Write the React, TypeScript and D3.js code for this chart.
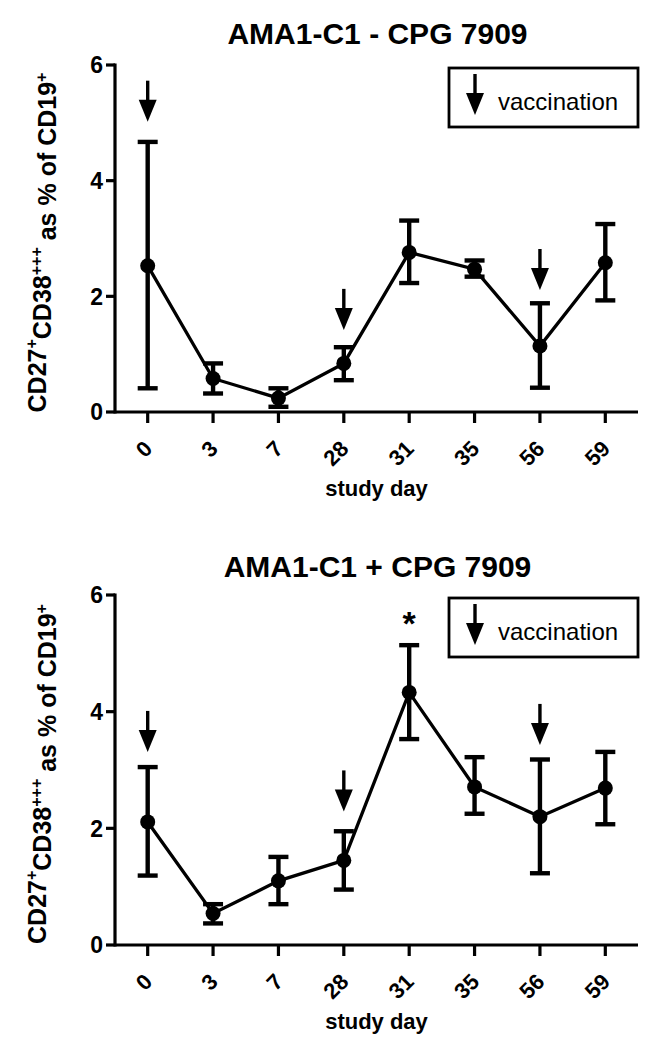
import React from "react";
import * as d3 from "d3";

const days = ["0", "3", "7", "28", "31", "35", "56", "59"];
const yTicks = [0, 2, 4, 6];

const topMean = [2.53, 0.58, 0.24, 0.84, 2.76, 2.47, 1.14, 2.58];
const topUpper = [4.67, 0.84, 0.41, 1.12, 3.31, 2.62, 1.88, 3.25];
const topLower = [0.41, 0.32, 0.09, 0.55, 2.23, 2.34, 0.42, 1.93];

const bottomMean = [2.11, 0.54, 1.1, 1.45, 4.33, 2.71, 2.2, 2.69];
const bottomUpper = [3.05, 0.7, 1.51, 1.95, 5.14, 3.22, 3.18, 3.31];
const bottomLower = [1.19, 0.37, 0.7, 0.95, 3.53, 2.25, 1.23, 2.07];

const vaccinationDays = ["0", "28", "56"];
const topArrowTip = [5.02, 1.42, 2.11];
const bottomArrowTip = [3.31, 2.29, 3.43];

const bottomStarDay = "31";
const bottomStarValue = 5.66;

const FONT = "'Liberation Sans', Arial, sans-serif";

type PanelProps = {
  title: string;
  top: number;
  bottom: number;
  mean: number[];
  upper: number[];
  lower: number[];
  arrowTips: number[];
  star?: { day: string; value: number };
  titleY: number;
};

function Arrow({ x, tipY }: { x: number; tipY: number }) {
  return (
    <g>
      <line x1={x} x2={x} y1={tipY - 41} y2={tipY - 18} stroke="#000" strokeWidth={3.4} />
      <path d={`M${x - 9},${tipY - 22} L${x + 9},${tipY - 22} L${x},${tipY} Z`} fill="#000" />
    </g>
  );
}

function Panel({ title, top, bottom, mean, upper, lower, arrowTips, star, titleY }: PanelProps) {
  const left = 115;
  const right = 638;
  const x = d3.scalePoint<string>().domain(days).range([left, right]).padding(0.5);
  const y = d3.scaleLinear().domain([0, 6]).range([bottom, top]);
  const line = d3
    .line<number>()
    .x((_, i) => x(days[i]) as number)
    .y((d) => y(d));
  const cx = (left + right) / 2;
  return (
    <g>
      <text x={cx + 1} y={titleY} textAnchor="middle" fontFamily={FONT} fontWeight="bold" fontSize={30}>
        {title}
      </text>
      {/* y axis */}
      <line x1={left} x2={left} y1={top - 1.5} y2={bottom + 1.5} stroke="#000" strokeWidth={3.2} />
      {yTicks.map((t) => (
        <g key={t}>
          <line x1={left - 9} x2={left} y1={y(t)} y2={y(t)} stroke="#000" strokeWidth={3.2} />
          <text x={left - 12} y={y(t)} dy="0.36em" textAnchor="end" fontFamily={FONT} fontWeight="bold" fontSize={23}>
            {t}
          </text>
        </g>
      ))}
      {/* x axis */}
      <line x1={left} x2={right} y1={bottom} y2={bottom} stroke="#000" strokeWidth={3.2} />
      {days.map((d) => {
        const px = x(d) as number;
        return (
          <g key={d}>
            <line x1={px} x2={px} y1={bottom} y2={bottom + 11} stroke="#000" strokeWidth={3.2} />
            <text
              transform={`translate(${px + 6},${bottom + 38}) rotate(-45)`}
              textAnchor="end"
              fontFamily={FONT}
              fontWeight="bold"
              fontSize={22}
            >
              {d}
            </text>
          </g>
        );
      })}
      <text x={cx} y={bottom + 84} textAnchor="middle" fontFamily={FONT} fontWeight="bold" fontSize={22}>
        study day
      </text>
      {/* y label */}
      <text
        transform={`translate(46,${(top + bottom) / 2 + 4}) rotate(-90)`}
        textAnchor="middle"
        fontFamily={FONT}
        fontWeight="bold"
        fontSize={25}
      >
        CD27<tspan dy="-0.55em" fontSize={16}>+</tspan>
        <tspan dy="0.55em">CD38</tspan>
        <tspan dy="-0.55em" fontSize={16}>+++</tspan>
        <tspan dy="0.55em"> as % of CD19</tspan>
        <tspan dy="-0.55em" fontSize={16}>+</tspan>
      </text>
      {/* error bars */}
      {days.map((d, i) => {
        const px = x(d) as number;
        return (
          <g key={"e" + d} stroke="#000" strokeWidth={4.4}>
            <line x1={px} x2={px} y1={y(upper[i])} y2={y(lower[i])} />
            <line x1={px - 10} x2={px + 10} y1={y(upper[i])} y2={y(upper[i])} />
            <line x1={px - 10} x2={px + 10} y1={y(lower[i])} y2={y(lower[i])} />
          </g>
        );
      })}
      <path d={line(mean) || ""} fill="none" stroke="#000" strokeWidth={3.3} />
      {mean.map((m, i) => (
        <circle key={"c" + i} cx={x(days[i]) as number} cy={y(m)} r={7.5} fill="#000" />
      ))}
      {vaccinationDays.map((d, i) => (
        <Arrow key={"a" + d} x={x(d) as number} tipY={y(arrowTips[i])} />
      ))}
      {star && (
        <text x={x(star.day) as number} y={y(star.value) + 20} textAnchor="middle" fontFamily={FONT} fontWeight="bold" fontSize={34}>
          *
        </text>
      )}
      {/* legend */}
      <rect x={449} y={top + 3} width={189} height={59} fill="#fff" stroke="#000" strokeWidth={2.8} />
      <Arrow x={475} tipY={top + 50} />
      <text x={498} y={top + 45} fontFamily={FONT} fontSize={24}>
        vaccination
      </text>
    </g>
  );
}

export default function App() {
  return (
    <div style={{ position: "absolute", left: 0, top: 0 }}>
      <svg width={655} height={1050} style={{ display: "block", background: "#fff" }}>
        <rect width={655} height={1050} fill="#fff" />
        <Panel
          title="AMA1-C1 - CPG 7909"
          top={65}
          bottom={412}
          mean={topMean}
          upper={topUpper}
          lower={topLower}
          arrowTips={topArrowTip}
          titleY={44}
        />
        <Panel
          title="AMA1-C1 + CPG 7909"
          top={595}
          bottom={945}
          mean={bottomMean}
          upper={bottomUpper}
          lower={bottomLower}
          arrowTips={bottomArrowTip}
          star={{ day: bottomStarDay, value: bottomStarValue }}
          titleY={577}
        />
      </svg>
    </div>
  );
}
